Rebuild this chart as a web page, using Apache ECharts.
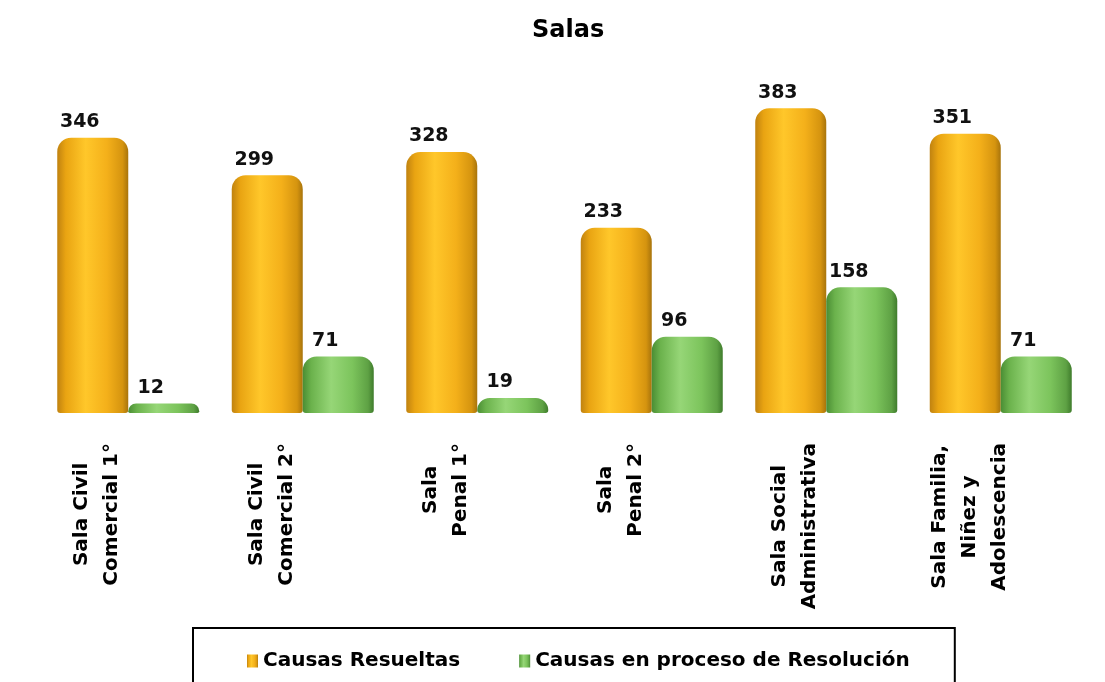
<!DOCTYPE html>
<html>
<head>
<meta charset="utf-8">
<title>Salas</title>
<script src="https://cdn.jsdelivr.net/npm/echarts@6/dist/echarts.min.js"></script>
<style>
  html, body { margin: 0; padding: 0; background: #fff; }
  #chart { width: 1105px; height: 682px; }
</style>
</head>
<body>
<div id="chart"></div>
<script>
// Court chambers and case counts
const categories = [
  'Sala Civil\nComercial 1°',
  'Sala Civil\nComercial 2°',
  'Sala\nPenal 1°',
  'Sala\nPenal 2°',
  'Sala Social\nAdministrativa',
  'Sala Familia,\nNiñez y\nAdolescencia'
];
const resueltas = [346, 299, 328, 233, 383, 351];
const enProceso = [12, 71, 19, 96, 158, 71];
const seriesNames = ['Causas Resueltas', 'Causas en proceso de Resolución'];

const FONT = '"DejaVu Sans", "Liberation Sans", sans-serif';

// Horizontal gradients give the bars a rounded, cylinder-like shading
const orangeFill = new echarts.graphic.LinearGradient(0, 0, 1, 0, [
  { offset: 0, color: '#c08210' },
  { offset: 0.12, color: '#e9a412' },
  { offset: 0.4, color: '#ffc72a' },
  { offset: 0.7, color: '#f4b01a' },
  { offset: 0.92, color: '#d5940f' },
  { offset: 1, color: '#a8740c' }
]);
const greenFill = new echarts.graphic.LinearGradient(0, 0, 1, 0, [
  { offset: 0, color: '#4a8d34' },
  { offset: 0.12, color: '#6bb24c' },
  { offset: 0.4, color: '#96d677' },
  { offset: 0.7, color: '#7cc45c' },
  { offset: 0.92, color: '#5ea144' },
  { offset: 1, color: '#3f7c2c' }
]);

const valueLabel = {
  show: true,
  position: 'top',
  distance: 6,
  offset: [-13, 0],
  color: '#111',
  fontFamily: FONT,
  fontWeight: 'bold',
  fontSize: 19
};

const chart = echarts.init(document.getElementById('chart'));
chart.setOption({
  backgroundColor: '#ffffff',
  animation: false,
  title: {
    text: 'Salas',
    left: 527,
    top: 14,
    textStyle: { fontFamily: FONT, fontWeight: 'bold', fontSize: 24, color: '#000' }
  },
  legend: {
    data: seriesNames,
    left: 193,
    top: 628,
    padding: [23, 45, 40, 54],
    borderColor: '#000',
    borderWidth: 2,
    icon: 'rect',
    itemWidth: 11,
    itemHeight: 13,
    itemGap: 59,
    textStyle: { fontFamily: FONT, fontWeight: 'bold', fontSize: 20, color: '#000' }
  },
  grid: { left: 41, right: 17, top: 55, bottom: 269, containLabel: false },
  xAxis: {
    type: 'category',
    data: categories,
    axisLine: { show: false },
    axisTick: { show: false },
    axisLabel: {
      interval: 0,
      rotate: 90,
      margin: 30,
      padding: [0, 0, 62, 0],
      formatter: function (v) {
        return v.split('\n').map(function (s) { return '{c|' + s + '}'; }).join('\n');
      },
      rich: {
        c: {
          align: 'center',
          fontFamily: FONT,
          fontWeight: 'bold',
          fontSize: 20,
          lineHeight: 30,
          color: '#000'
        }
      }
    }
  },
  yAxis: {
    type: 'value',
    min: 0,
    max: 450,
    show: false,
    splitLine: { show: false }
  },
  series: [
    {
      name: seriesNames[0],
      type: 'bar',
      data: resueltas,
      barWidth: 71,
      barGap: '0%',
      itemStyle: { color: orangeFill, borderRadius: [14, 14, 3, 3] },
      label: valueLabel
    },
    {
      name: seriesNames[1],
      type: 'bar',
      data: enProceso,
      barWidth: 71,
      barGap: '0%',
      itemStyle: { color: greenFill, borderRadius: [14, 14, 3, 3] },
      label: valueLabel
    }
  ]
});
</script>
</body>
</html>
